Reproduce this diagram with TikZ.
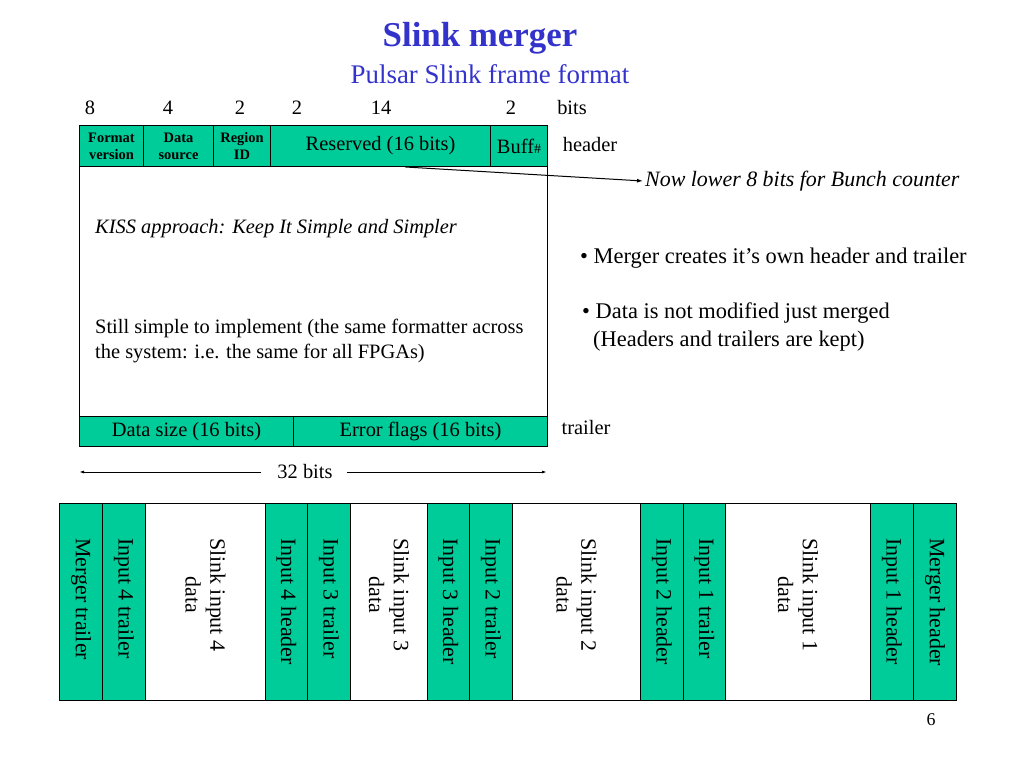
\documentclass[tikz,border=0pt]{standalone}
\usepackage{fontspec}
\setmainfont{Liberation Serif}
\usepackage{tikz}
\usetikzlibrary{arrows.meta}
\definecolor{slgreen}{RGB}{0,204,153}
\definecolor{slblue}{RGB}{51,51,204}

\begin{document}
\begin{tikzpicture}[x=1bp, y=-1bp]
\tikzstyle{field}=[draw, line width=1bp, fill=slgreen, anchor=north west, inner sep=0pt, align=center, font=\fontsize{20.5}{22}\selectfont]
\tikzstyle{small}=[font=\bfseries\fontsize{14.5}{17}\selectfont]
\tikzstyle{slot}=[draw, line width=1bp, anchor=north west, minimum height=197bp, inner sep=0pt]
\tikzstyle{slotlabel}=[rotate=-90, anchor=west, align=center, inner sep=0pt, font=\fontsize{22}{25}\selectfont]
\tikzstyle{txt}=[inner sep=0pt, align=left, font=\fontsize{20.5}{26}\selectfont]
\tikzstyle{pointer}=[line width=1bp, -{Latex[length=6bp, width=4bp]}]
\useasboundingbox (0,0) rectangle (1024,768);

% title
\node[font=\bfseries\fontsize{35}{38}\selectfont, text=slblue] (title) at (480,38) {Slink merger};
\node[font=\fontsize{27}{30}\selectfont, text=slblue] (subtitle) at (490,74) {Pulsar Slink frame format};

% bit counts
\node[txt] (b8) at (90,108) {8};
\node[txt] (b4) at (168,108) {4};
\node[txt] (b2a) at (240,108) {2};
\node[txt] (b2b) at (297,108) {2};
\node[txt] (b14) at (381,108) {14};
\node[txt] (b2c) at (511,108) {2};
\node[txt] (bits) at (572,108) {bits};

% frame
\node[field, small, minimum width=64bp, minimum height=41bp] (fmt) at (79,125) {Format\\version};
\node[field, small, minimum width=70bp, minimum height=41bp] (src) at (143,125) {Data\\source};
\node[field, small, minimum width=57bp, minimum height=41bp] (rid) at (213,125) {Region\\ID};
\node[field, minimum width=220bp, minimum height=41bp] (res) at (270,125) {Reserved (16 bits)};
\node[field, minimum width=57bp, minimum height=41bp] (buf) at (490,125) {Buff{\fontsize{14}{14}\selectfont\#}};
\node[field, fill=white, minimum width=468bp, minimum height=250bp] (body) at (79,166) {};
\node[field, minimum width=214bp, minimum height=30bp] (dsize) at (79,416) {Data size (16 bits)};
\node[field, minimum width=254bp, minimum height=30bp] (eflags) at (293,416) {Error flags (16 bits)};

\node[txt] (hdr) at (590,145) {header};
\node[txt] (trl) at (586,428) {trailer};

\node[txt, font=\itshape\fontsize{20.5}{26}\selectfont] (kiss) at (95,229) [anchor=west] {KISS approach: Keep It Simple and Simpler};
\node[txt] (simple) at (95,341) [anchor=west] {Still simple to implement (the same formatter across\\the system: i.e. the same for all FPGAs)};

% bus width
\node[txt] (width) at (305,472) {32 bits};
\coordinate (wl) at (79,472);
\coordinate (wr) at (547,472);
\draw[pointer, -{Latex[length=5bp, width=3bp]}] ([xshift=-16bp]width.west) -- (wl);
\draw[pointer, -{Latex[length=5bp, width=3bp]}] ([xshift=14bp]width.east) -- (wr);

% notes
\node[txt, font=\itshape\fontsize{22}{26}\selectfont] (note) at (645,181) [anchor=west] {Now lower 8 bits for Bunch counter};
\draw[pointer] ([xshift=25bp]res.south) -- ([xshift=-2bp]note.west);

\node[txt, font=\fontsize{22.5}{28}\selectfont] (pt1) at (580,258) [anchor=west] {• Merger creates it’s own header and trailer};
\node[txt, font=\fontsize{22.5}{28}\selectfont] (pt2) at (582,327) [anchor=west] {• Data is not modified just merged\\\hspace*{11bp}(Headers and trailers are kept)};

% merged stream
\foreach \x/\w/\c/\t [count=\i] in {59/43/slgreen/Merger trailer, 102/43/slgreen/Input 4 trailer,
  145/120/white/{Slink input 4\\data}, 265/42/slgreen/Input 4 header, 307/43/slgreen/Input 3 trailer,
  350/77/white/{Slink input 3\\data}, 427/42/slgreen/Input 3 header, 469/43/slgreen/Input 2 trailer,
  512/128/white/{Slink input 2\\data}, 640/43/slgreen/Input 2 header, 683/42/slgreen/Input 1 trailer,
  725/145/white/{Slink input 1\\data}, 870/43/slgreen/Input 1 header, 913/43/slgreen/Merger header}
{
  \node[slot, fill=\c, minimum width=\w bp] (s\i) at (\x,503) {};
  \node[slotlabel] (l\i) at ([yshift=-35bp]s\i.north) {\t};
}

\node[font=\fontsize{18}{20}\selectfont] (page) at (931,720) {6};
\end{tikzpicture}
\end{document}
